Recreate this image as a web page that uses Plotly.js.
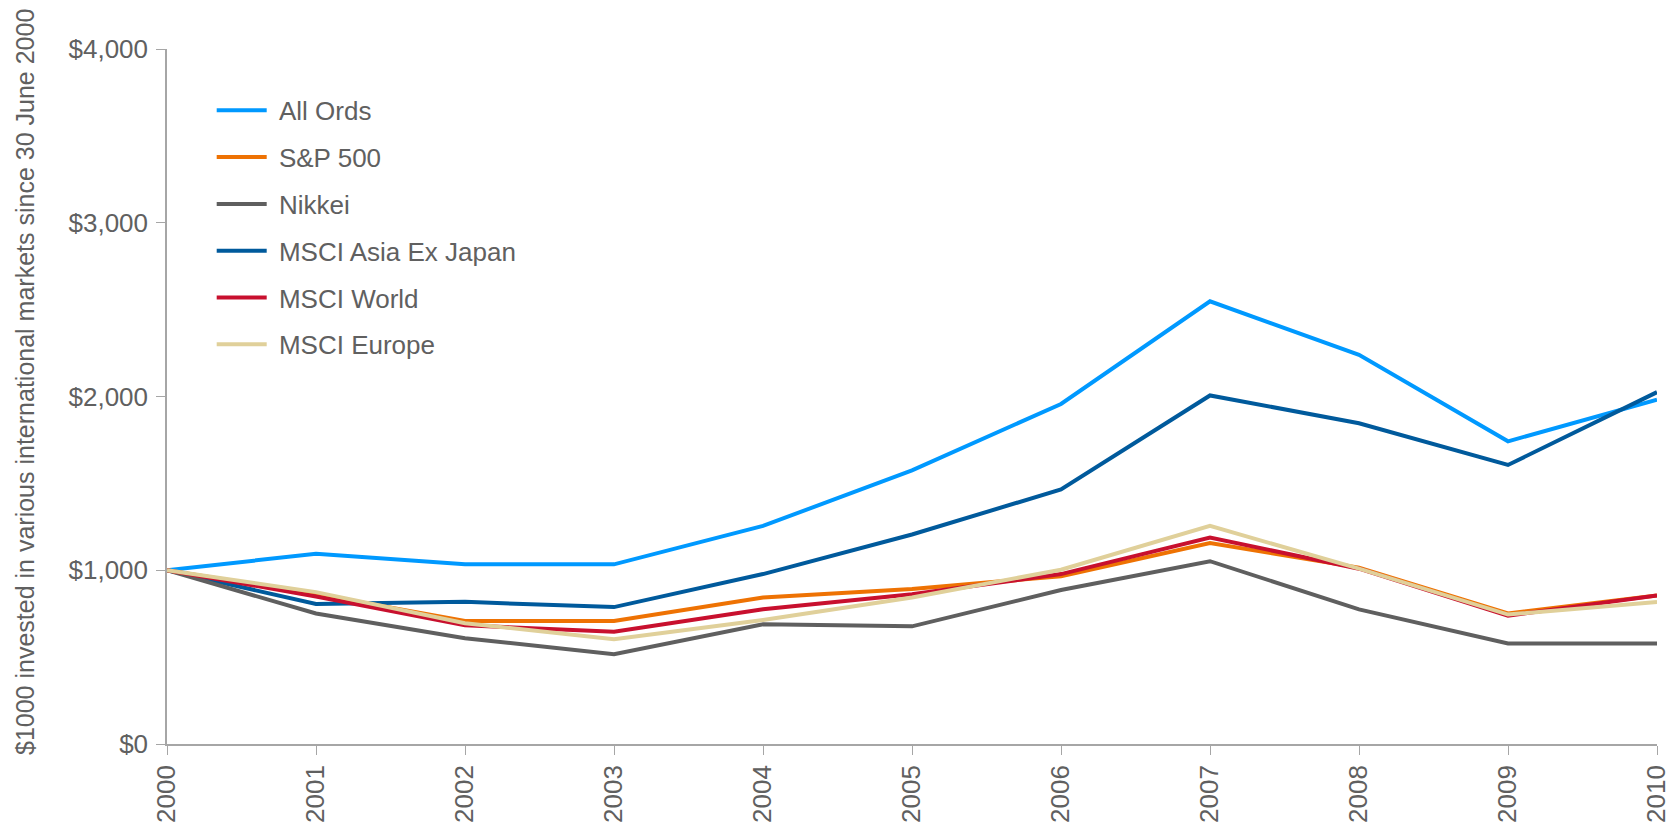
<!DOCTYPE html>
<html>
<head>
<meta charset="utf-8">
<script src="https://cdn.plot.ly/plotly-3.0.1.min.js"></script>
<style>html,body{margin:0;padding:0;background:#fff;}#chart{width:1677px;height:823px;}</style>
</head>
<body>
<div id="chart"></div>
<script>
const years = [2000, 2001, 2002, 2003, 2004, 2005, 2006, 2007, 2008, 2009, 2010];
const allOrds      = [1000, 1095, 1034, 1034, 1255, 1575, 1957, 2548, 2240, 1742, 1982];
const sp500        = [1000, 862, 708, 708, 843, 892, 966, 1157, 1015, 751, 855];
const nikkei       = [1000, 751, 609, 517, 689, 677, 886, 1052, 775, 578, 578];
const msciAsiaExJp = [1000, 806, 818, 788, 978, 1206, 1465, 2006, 1846, 1606, 2025];
const msciWorld    = [1000, 849, 683, 646, 775, 862, 978, 1188, 1009, 738, 855];
const msciEurope   = [1000, 874, 695, 603, 714, 843, 1003, 1255, 1009, 745, 818];
const seriesNames  = ["All Ords", "S&P 500", "Nikkei", "MSCI Asia Ex Japan", "MSCI World", "MSCI Europe"];
const seriesColors = ["#0099ff", "#ee7203", "#5f5f5f", "#005a9c", "#c8102e", "#e0d09a"];
const seriesData   = [allOrds, sp500, nikkei, msciAsiaExJp, msciWorld, msciEurope];
const yTickVals    = [0, 1000, 2000, 3000, 4000];
const yTickText    = ["$0", "$1,000", "$2,000", "$3,000", "$4,000"];
const yTitle       = "$1000 invested in various international markets since 30 June 2000";

// draw order: later traces on top
const drawOrder = [0, 3, 2, 1, 4, 5];
const traces = drawOrder.map(i => ({
  x: years,
  y: seriesData[i],
  name: "\u00a0" + seriesNames[i],
  type: "scatter",
  mode: "lines",
  line: {color: seriesColors[i], width: 4},
  legendgroup: "g" + i,
  legendrank: i + 1
}));

const fam = "Liberation Sans, Arial, sans-serif";
const grey = "#606060";
const font = {family: fam, size: 26, color: grey};
const layout = {
  width: 1677, height: 823,
  margin: {l: 167, r: 20, t: 49, b: 79},
  paper_bgcolor: "#fff", plot_bgcolor: "#fff",
  font: font,
  showlegend: true,
  legend: {
    x: 0.03, y: 0.9455, xanchor: "left", yanchor: "top",
    font: font, traceorder: "grouped", tracegroupgap: 10,
    itemwidth: 50, bgcolor: "rgba(0,0,0,0)"
  },
  xaxis: {
    range: [2000, 2010], tickvals: years, ticktext: years.map(String),
    tickangle: -90, showgrid: false, zeroline: false,
    showline: true, linecolor: "#a6a6a6", linewidth: 1.5,
    ticks: "outside", ticklen: 9, tickcolor: "#a6a6a6",
    tickfont: {family: fam, size: 26, color: grey}
  },
  yaxis: {
    range: [0, 4000], tickvals: yTickVals, ticktext: yTickText,
    showgrid: false, zeroline: false,
    showline: true, linecolor: "#a6a6a6", linewidth: 1.5,
    ticks: "outside", ticklen: 9, tickcolor: "#a6a6a6",
    ticklabelstandoff: 3,
    tickfont: font
  },
  annotations: [{
    text: yTitle, textangle: -90, showarrow: false,
    xref: "paper", yref: "paper",
    x: (25 - 167) / 1490, y: 1 - (382 - 49) / 695,
    xanchor: "center", yanchor: "middle",
    font: {family: fam, size: 25, color: grey}
  }]
};
Plotly.newPlot("chart", traces, layout, {displayModeBar: false});
</script>
</body>
</html>
